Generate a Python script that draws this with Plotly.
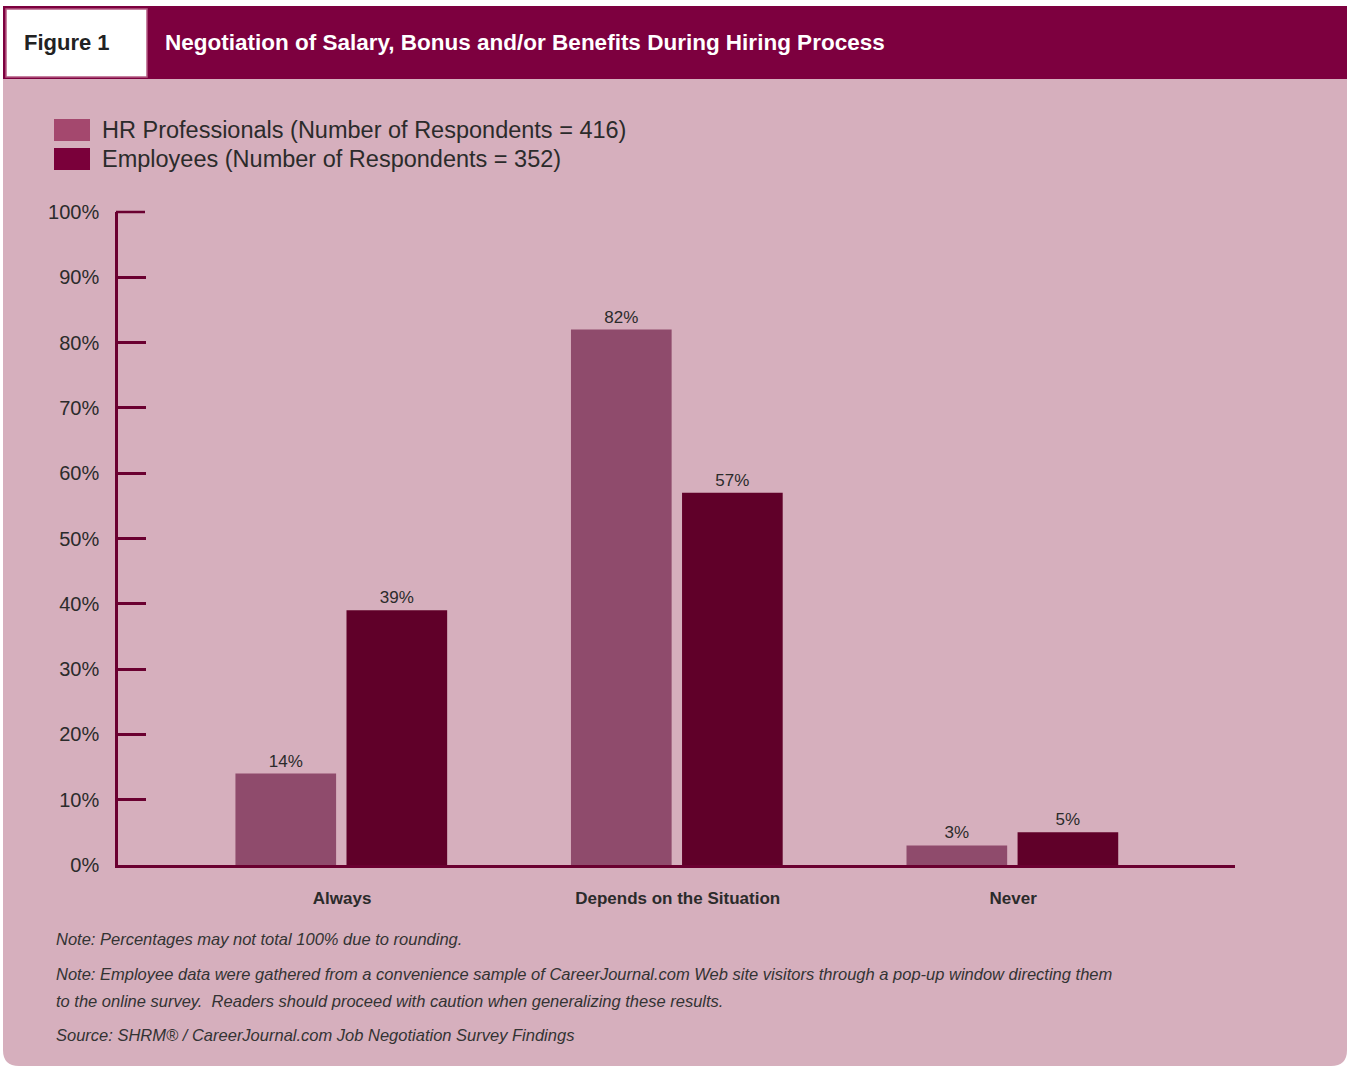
import plotly.graph_objects as go

# Survey data
categories = ["Always", "Depends on the Situation", "Never"]
hr_values = [14, 82, 3]
employee_values = [39, 57, 5]
series_names = [
    "HR Professionals (Number of Respondents = 416)",
    "Employees (Number of Respondents = 352)",
]
y_ticks = [0, 10, 20, 30, 40, 50, 60, 70, 80, 90, 100]

title_text = "Negotiation of Salary, Bonus and/or Benefits During Hiring Process"
figure_label = "Figure 1"
notes = [
    "Note: Percentages may not total 100% due to rounding.",
    "Note: Employee data were gathered from a convenience sample of CareerJournal.com Web site visitors through a pop-up window directing them",
    "to the online survey.  Readers should proceed with caution when generalizing these results.",
    "Source: SHRM\u00ae / CareerJournal.com Job Negotiation Survey Findings",
]

# Page geometry (plot area edges in pixels)
W, H = 1351, 1067
PL, PR, PT, PB = 118, 1235, 212, 865

PANEL = "#D6AFBD"
HEADER = "#7D003F"
AXIS = "#6A0030"
HR_COLOR = "#8F4B6C"
EMP_COLOR = "#600029"
HR_SWATCH = "#A4486E"
EMP_SWATCH = "#7A003A"
TEXT = "#2B2B2B"
FONT = "Liberation Sans, Arial, sans-serif"


def px(x):
    return (x - PL) / (PR - PL)


def py(y):
    return (PB - y) / (PB - PT)


fig = go.Figure()
fig.add_trace(go.Bar(
    x=list(range(len(categories))), y=hr_values, name=series_names[0],
    marker=dict(color=HR_COLOR, line=dict(width=0)),
    width=0.3, offset=-0.318,
    texttemplate="%{y}%", textposition="outside",
    textfont=dict(size=17, color=TEXT, family=FONT),
    cliponaxis=False, showlegend=False,
))
fig.add_trace(go.Bar(
    x=list(range(len(categories))), y=employee_values, name=series_names[1],
    marker=dict(color=EMP_COLOR, line=dict(width=0)),
    width=0.3, offset=0.013,
    texttemplate="%{y}%", textposition="outside",
    textfont=dict(size=17, color=TEXT, family=FONT),
    cliponaxis=False, showlegend=False,
))

shapes = []
# Panel with rounded bottom corners
r = 16
x0, x1, y0, y1 = 3, 1347, 6, 1066
path = (
    f"M {px(x0)},{py(y0)} L {px(x1)},{py(y0)} L {px(x1)},{py(y1 - r)} "
    f"Q {px(x1)},{py(y1)} {px(x1 - r)},{py(y1)} L {px(x0 + r)},{py(y1)} "
    f"Q {px(x0)},{py(y1)} {px(x0)},{py(y1 - r)} Z"
)
shapes.append(dict(type="path", xref="paper", yref="paper", path=path,
                   fillcolor=PANEL, line=dict(width=0), layer="below"))
# Header band
shapes.append(dict(type="rect", xref="paper", yref="paper",
                   x0=px(3), x1=px(1347), y0=py(6), y1=py(79),
                   fillcolor=HEADER, line=dict(width=0), layer="below"))
# White label box
shapes.append(dict(type="rect", xref="paper", yref="paper",
                   x0=px(6), x1=px(147), y0=py(9), y1=py(77),
                   fillcolor="white", line=dict(width=1.5, color="#B45A82"),
                   layer="below"))
# Legend swatches
shapes.append(dict(type="rect", xref="paper", yref="paper",
                   x0=px(54), x1=px(90), y0=py(119), y1=py(141),
                   fillcolor=HR_SWATCH, line=dict(width=0)))
shapes.append(dict(type="rect", xref="paper", yref="paper",
                   x0=px(54), x1=px(90), y0=py(148), y1=py(170),
                   fillcolor=EMP_SWATCH, line=dict(width=0)))
# Tick mark at the top end of the value axis
shapes.append(dict(type="line", xref="paper", yref="paper",
                   x0=px(116), x1=px(145), y0=1, y1=1,
                   line=dict(color=AXIS, width=2.5)))

annotations = [
    dict(text=f"<b>{figure_label}</b>", x=px(67), y=py(42), xref="paper", yref="paper",
         showarrow=False, xanchor="center", yanchor="middle",
         font=dict(size=22, color="#222222", family=FONT)),
    dict(text=f"<b>{title_text}</b>", x=px(163), y=py(42), xref="paper", yref="paper",
         showarrow=False, xanchor="left", yanchor="middle",
         font=dict(size=22.5, color="white", family=FONT)),
    dict(text=series_names[0], x=px(100), y=py(130), xref="paper", yref="paper",
         showarrow=False, xanchor="left", yanchor="middle",
         font=dict(size=23.5, color=TEXT, family=FONT)),
    dict(text=series_names[1], x=px(100), y=py(159), xref="paper", yref="paper",
         showarrow=False, xanchor="left", yanchor="middle",
         font=dict(size=23.5, color=TEXT, family=FONT)),
]
for note, yc in zip(notes, [939, 974, 1001, 1035]):
    annotations.append(dict(text=f"<i>{note}</i>", x=px(54), y=py(yc),
                            xref="paper", yref="paper", showarrow=False,
                            xanchor="left", yanchor="middle",
                            font=dict(size=16.5, color="#333333", family=FONT)))

fig.update_layout(
    width=W, height=H,
    margin=dict(l=PL, r=W - PR, t=PT, b=H - PB, pad=0),
    paper_bgcolor="white", plot_bgcolor="rgba(0,0,0,0)",
    barmode="overlay", showlegend=False,
    shapes=shapes, annotations=annotations,
    font=dict(family=FONT, color=TEXT),
    xaxis=dict(
        range=[-0.668, 2.661], tickmode="array",
        tickvals=list(range(len(categories))),
        ticktext=[f"<b>{c}</b>" for c in categories],
        tickfont=dict(size=17, color=TEXT, family=FONT),
        showgrid=False, zeroline=False, showline=True,
        linecolor=AXIS, linewidth=2.5, ticks="", ticklabelstandoff=16,
        fixedrange=True,
    ),
    yaxis=dict(
        range=[0, 100], tickmode="array", tickvals=y_ticks,
        ticktext=[f"{v}%" for v in y_ticks],
        tickfont=dict(size=20, color=TEXT, family=FONT),
        showgrid=False, zeroline=False, showline=True,
        linecolor=AXIS, linewidth=2.5,
        ticks="inside", ticklen=28, tickwidth=2.5, tickcolor=AXIS,
        ticklabelstandoff=12, fixedrange=True,
    ),
)

fig.write_html("out.html", config={"displayModeBar": False})
